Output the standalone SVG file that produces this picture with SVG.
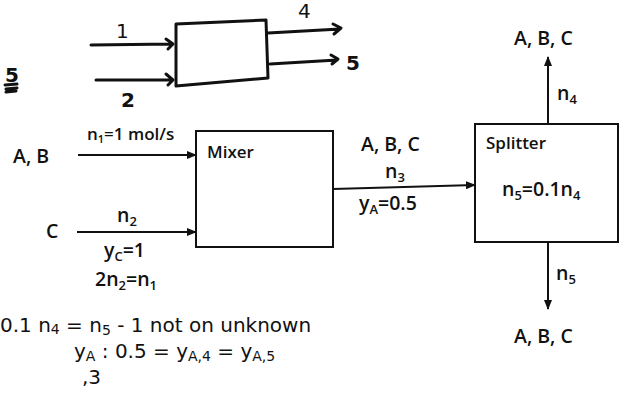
<svg xmlns="http://www.w3.org/2000/svg" width="628" height="394" viewBox="0 0 628 394">
<defs>
<marker id="ah" markerWidth="10" markerHeight="8" refX="9" refY="4" orient="auto" markerUnits="userSpaceOnUse"><path d="M0,0 L10,4 L0,8 Z" fill="#111"/></marker>
<style>
.t{font-family:"Open Sans","Liberation Sans",sans-serif;font-weight:600;fill:#111}
.b{font-size:19.5px}
.s{font-size:17px}
.hw{font-family:"DejaVu Sans","Liberation Sans",sans-serif;fill:#111;font-size:20px}
.box{fill:#fff;stroke:#111;stroke-width:2}
.ln{stroke:#111;stroke-width:2;fill:none}
.hl{stroke:#111;stroke-width:3;fill:none;stroke-linecap:round;stroke-linejoin:round}
</style>
</defs>
<rect width="628" height="394" fill="#fff"/>

<g id="sketch">
<path class="hl" d="M176,24 L266,20 L268,78 L176,86 Z"/>
<path class="hl" d="M91,45 L172,44 M166,39 L173,44 L168,49"/>
<path class="hl" d="M96,80 L172,80 M166,74 L173,80 L168,85"/>
<path class="hl" d="M268,33 L340,29 M333,24 L341,28 L334,34"/>
<path class="hl" d="M270,64 L337,60 M331,55 L338,59 L332,64"/>
<text class="hw" x="116" y="38">1</text>
<text class="hw" x="121" y="107" font-weight="bold">2</text>
<text class="hw" x="298" y="18">4</text>
<text class="hw" x="346" y="70" font-weight="bold">5</text>
<text class="hw" x="5" y="82" font-weight="bold" font-size="16">5</text>
<path class="hl" stroke-width="2" d="M5,85 L17,84 M6,89 L17,88 M6,92 L16,91"/>
</g>

<g id="mixer">
<rect class="box" x="196" y="131" width="137" height="116"/>
<text class="t s" x="207" y="158">Mixer</text>
</g>

<g id="splitter">
<rect class="box" x="475" y="124" width="143" height="118"/>
<text class="t s" x="486" y="149">Splitter</text>
<text class="t b" x="502" y="196" font-size="21">n<tspan font-size="13" dy="4">5</tspan><tspan dy="-4">=0.1n</tspan><tspan font-size="13" dy="4">4</tspan></text>
</g>

<g id="connectors">
<line class="ln" x1="78" y1="155" x2="196" y2="155" marker-end="url(#ah)"/>
<line class="ln" x1="77" y1="232" x2="196" y2="232" marker-end="url(#ah)"/>
<line class="ln" x1="333" y1="189" x2="475" y2="185" marker-end="url(#ah)"/>
<line class="ln" x1="548" y1="124" x2="548" y2="57" marker-end="url(#ah)"/>
<line class="ln" x1="548" y1="242" x2="548" y2="309" marker-end="url(#ah)"/>
</g>

<g id="labels">
<text class="t b" x="13" y="163">A, B</text>
<text class="t s" x="87" y="140">n<tspan font-size="11" dy="3">1</tspan><tspan dy="-3">=1 mol/s</tspan></text>
<text class="t b" x="46" y="238">C</text>
<text class="t b" x="117" y="222">n<tspan font-size="13" dy="4">2</tspan></text>
<text class="t b" x="104" y="257">y<tspan font-size="13" dy="4">C</tspan><tspan dy="-4">=1</tspan></text>
<text class="t b" x="95" y="286">2n<tspan font-size="13" dy="4">2</tspan><tspan dy="-4">=n</tspan><tspan font-size="13" dy="4">1</tspan></text>
<text class="t b" x="361" y="151">A, B, C</text>
<text class="t b" x="385" y="178">n<tspan font-size="13" dy="4">3</tspan></text>
<text class="t b" x="359" y="210">y<tspan font-size="13" dy="4">A</tspan><tspan dy="-4">=0.5</tspan></text>
<text class="t b" x="514" y="45">A, B, C</text>
<text class="t b" x="557" y="100">n<tspan font-size="13" dy="4">4</tspan></text>
<text class="t b" x="556" y="280">n<tspan font-size="13" dy="4">5</tspan></text>
<text class="t b" x="514" y="343">A, B, C</text>
</g>

<g id="notes">
<text class="hw" x="0" y="332">0.1  n<tspan font-size="14" dy="2">4</tspan><tspan dy="-2"> = n</tspan><tspan font-size="14" dy="3">5</tspan><tspan dy="-3"> - 1 not on unknown</tspan></text>
<text class="hw" x="74" y="358">y<tspan font-size="14" dy="3">A</tspan><tspan dy="-3"> : 0.5 = y</tspan><tspan font-size="14" dy="3">A,4</tspan><tspan dy="-3"> = y</tspan><tspan font-size="14" dy="3">A,5</tspan></text>
<text class="hw" x="82" y="384" font-size="13">,3</text>
</g>
</svg>
